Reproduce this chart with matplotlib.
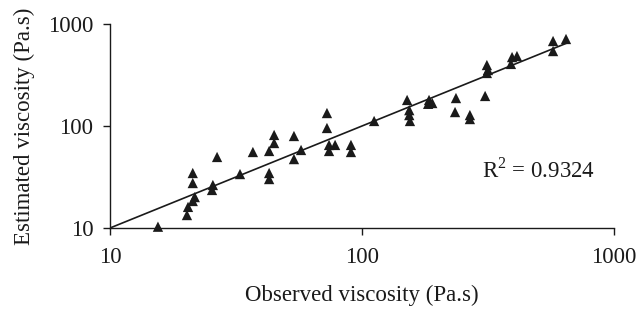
import matplotlib

matplotlib.use("Agg")
import matplotlib.pyplot as plt

# observed vs estimated viscosity (Pa.s)
observed = [
    15.5, 20.2, 20.4, 21.3, 21.7, 21.3, 21.3, 25.4, 25.6, 26.6, 32.8, 36.9,
    42.8, 44.8, 44.8, 42.8, 42.8, 53.7, 53.7, 57.3, 72.6, 72.6, 74.0, 74.0,
    78.2, 90.4, 90.4, 111.7, 151, 154, 154, 155, 184.5, 190, 183, 236, 234,
    268, 268, 308, 313, 316, 313, 394, 412, 390, 573, 573, 645,
]
estimated = [
    10.3, 13.4, 16.1, 18.4, 20.1, 27.6, 34.6, 23.6, 26.4, 49.7, 33.8, 55.6,
    56.9, 81.7, 68.1, 34.6, 30.2, 79.8, 47.4, 58.2, 134, 95.6, 65.2, 56.9,
    65.2, 65.2, 55.6, 112, 180, 143, 128, 112, 180, 168, 165, 188, 137,
    128, 117, 197, 396, 354, 331, 474, 485, 406, 681, 543, 713,
]
fit_x = [10, 650]
fit_y = [10, 650]
r2_label = "R$^2$ = 0.9324"

plt.rcParams["font.family"] = ["Liberation Serif", "DejaVu Serif"]
plt.rcParams["mathtext.fontset"] = "custom"
plt.rcParams["mathtext.rm"] = "Liberation Serif"

fig = plt.figure(figsize=(6.38, 3.14), dpi=100)
ax = fig.add_axes([110 / 638, 1 - 228 / 314, 504 / 638, 204 / 314])

ax.plot(fit_x, fit_y, color="#1a1a1a", lw=1.2, zorder=2)
ax.scatter(observed, estimated, marker="^", s=55, color="#1a1a1a",
           edgecolors="none", zorder=3, clip_on=False)

ax.set_xscale("log")
ax.set_yscale("log")
ax.set_xlim(10, 1000)
ax.set_ylim(10, 1000)
ax.set_xticks([10, 100, 1000], ["10", "100", "1000"])
ax.set_yticks([10, 100, 1000], ["10", "100", "1000"])
ax.minorticks_off()
ax.tick_params(length=5, width=1, labelsize=16.5, colors="#1a1a1a")
ax.tick_params(axis="x", pad=9)
ax.tick_params(axis="y", pad=7)

for side in ("top", "right"):
    ax.spines[side].set_visible(False)
for side in ("left", "bottom"):
    ax.spines[side].set_color("#1a1a1a")
    ax.spines[side].set_linewidth(1)

ax.text(300, 37, r2_label, fontsize=16.5, color="#1a1a1a", va="center")
ax.set_xlabel("Observed viscosity (Pa.s)", fontsize=16.5, color="#1a1a1a", labelpad=12)
ax.set_ylabel("Estimated viscosity (Pa.s)", fontsize=16.5, color="#1a1a1a", labelpad=9)

fig.savefig("out.png", dpi=100)
